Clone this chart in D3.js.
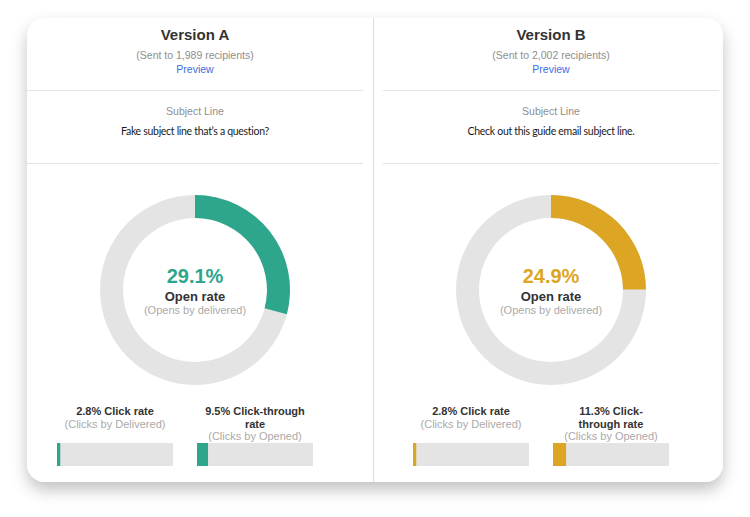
<!DOCTYPE html>
<html>
<head>
<meta charset="utf-8">
<script src="https://cdn.jsdelivr.net/npm/d3@7"></script>
<style>
  html, body { margin: 0; padding: 0; background: #ffffff; }
  svg { display: block; }
  text { font-family: "Liberation Sans", Arial, Helvetica, sans-serif; }
</style>
</head>
<body>
<svg id="chart" width="750" height="517"></svg>
<script>
// ---- data ----
const versions = ["Version A", "Version B"];
const recipients = [1989, 2002];
const subjectLines = ["Fake subject line that’s a question?", "Check out this guide email subject line."];
const openRates = [29.1, 24.9];
const clickRates = [2.8, 2.8];
const clickThroughRates = [9.5, 11.3];
const versionColors = ["#2ea68b", "#dca624"];

const W = 750, H = 517;
const svg = d3.select("#chart");

// shadow filter
const defs = svg.append("defs");
const f = defs.append("filter").attr("id", "shadow").attr("x", "-10%").attr("y", "-10%").attr("width", "120%").attr("height", "130%");
f.append("feDropShadow").attr("dx", 0).attr("dy", 8).attr("stdDeviation", 8)
  .attr("flood-color", "#000").attr("flood-opacity", 0.24);

// card
const card = { x: 27, y: 18, w: 696, h: 464 };
svg.append("rect")
  .attr("x", card.x).attr("y", card.y).attr("width", card.w).attr("height", card.h)
  .attr("rx", 18).attr("ry", 18)
  .attr("fill", "#fff").attr("filter", "url(#shadow)");

// vertical divider
svg.append("line")
  .attr("x1", 373.5).attr("x2", 373.5).attr("y1", card.y).attr("y2", card.y + card.h)
  .attr("stroke", "#dcdcdc").attr("stroke-width", 1);

const xCenter = d3.scalePoint().domain(versions).range([195, 551]);
const barScale = d3.scaleLinear().domain([0, 100]).range([0, 116]);
const angle = d3.scaleLinear().domain([0, 100]).range([0, 2 * Math.PI]);
const arc = d3.arc().innerRadius(72).outerRadius(95);

const fmtInt = d3.format(",");

// text wrapping helper (breaks at spaces and after hyphens)
function wrapLines(str, maxW, font) {
  const ctx = document.createElement("canvas").getContext("2d");
  ctx.font = font;
  const parts = str.match(/[^\s-]+-?/g);
  const lines = [];
  let cur = "";
  parts.forEach(p => {
    const sep = (cur === "" || cur.endsWith("-")) ? "" : " ";
    const trial = cur + sep + p;
    if (cur !== "" && ctx.measureText(trial).width > maxW) {
      lines.push(cur);
      cur = p;
    } else cur = trial;
  });
  if (cur) lines.push(cur);
  return lines;
}

versions.forEach((v, i) => {
  const cx = xCenter(v);
  const g = svg.append("g");
  const col = versionColors[i];

  // header
  g.append("text").attr("x", cx).attr("y", 40).attr("text-anchor", "middle")
    .attr("font-size", 15).attr("font-weight", "bold").attr("fill", "#333").text(v);
  g.append("text").attr("x", cx).attr("y", 59).attr("text-anchor", "middle")
    .attr("font-size", 10.5).attr("fill", "#8e8e8e").text(`(Sent to ${fmtInt(recipients[i])} recipients)`);
  g.append("text").attr("x", cx).attr("y", 72.5).attr("text-anchor", "middle")
    .attr("font-size", 10.5).attr("fill", "#3d6fe0").text("Preview");

  // dividers
  [90.5, 163.5].forEach(y => {
    g.append("line").attr("x1", cx - 168).attr("x2", cx + 168).attr("y1", y).attr("y2", y)
      .attr("stroke", "#e3e3e3").attr("stroke-width", 1.2);
  });

  // subject
  g.append("text").attr("x", cx).attr("y", 115).attr("text-anchor", "middle")
    .attr("font-size", 10.5).attr("fill", "#8e8e8e").text("Subject Line");
  g.append("text").attr("x", cx).attr("y", 135).attr("text-anchor", "middle")
    .style("font-family", "Lato, 'Open Sans', sans-serif")
    .style("letter-spacing", "-0.3px")
    .attr("font-size", 10.5).attr("fill", "#1a1a1a").text(subjectLines[i]);

  // donut
  const dg = g.append("g").attr("transform", `translate(${cx},290)`);
  dg.append("path").attr("d", arc({ startAngle: 0, endAngle: 2 * Math.PI })).attr("fill", "#e4e4e4");
  dg.append("path").attr("d", arc({ startAngle: 0, endAngle: angle(openRates[i]) })).attr("fill", col);

  dg.append("text").attr("x", 0).attr("y", -7).attr("text-anchor", "middle")
    .attr("font-size", 20).attr("font-weight", "bold").attr("fill", col).text(`${openRates[i].toFixed(1)}%`);
  dg.append("text").attr("x", 0).attr("y", 11).attr("text-anchor", "middle")
    .attr("font-size", 13).attr("font-weight", "bold").attr("fill", "#333").text("Open rate");
  dg.append("text").attr("x", 0).attr("y", 24).attr("text-anchor", "middle")
    .attr("font-size", 11).attr("fill", "#aaa").text("(Opens by delivered)");

  // bottom bars
  const metrics = [
    { label: `${clickRates[i].toFixed(1)}% Click rate`, sub: "(Clicks by Delivered)", value: clickRates[i], dx: -80 },
    { label: `${clickThroughRates[i].toFixed(1)}% Click-through rate`, sub: "(Clicks by Opened)", value: clickThroughRates[i], dx: 60 }
  ];
  metrics.forEach(m => {
    const mx = cx + m.dx;
    const lines = wrapLines(m.label, 102, "bold 11px 'Liberation Sans', Arial");
    lines.forEach((ln, k) => {
      g.append("text").attr("x", mx).attr("y", 415 + k * 12.7).attr("text-anchor", "middle")
        .attr("font-size", 11).attr("font-weight", "bold").attr("fill", "#333").text(ln);
    });
    g.append("text").attr("x", mx).attr("y", 415 + lines.length * 12.7).attr("text-anchor", "middle")
      .attr("font-size", 11).attr("fill", "#aaa").text(m.sub);

    const x0 = mx - barScale(100) / 2;
    g.append("rect").attr("x", x0).attr("y", 443).attr("width", barScale(100)).attr("height", 23).attr("fill", "#e4e4e4");
    g.append("rect").attr("x", x0).attr("y", 443).attr("width", barScale(m.value)).attr("height", 23).attr("fill", col);
  });
});
</script>
</body>
</html>
